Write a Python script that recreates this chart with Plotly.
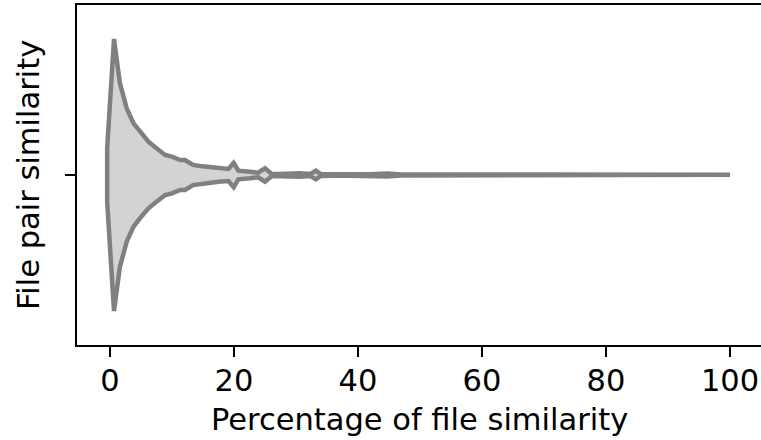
import plotly.graph_objects as go

# Percentage of file similarity (x grid) and relative density (peak = 1)
similarity_pct = [-0.45, 0.65, 1.6, 2.7, 3.8, 4.8, 6.2, 7.5, 8.9, 10.0, 11.3, 12.1,
                  13.4, 14.5, 15.6, 17.5, 19.1, 19.95, 20.7, 22.6, 23.9, 25.0, 26.1,
                  27.4, 30.6, 32.3, 33.2, 34.0, 36.0, 38.7, 42.0, 44.8, 47.0, 55.0,
                  65.0, 75.0, 85.0, 95.0, 100.0]
rel_density = [0.20, 1.00, 0.675, 0.49, 0.38, 0.32, 0.245, 0.196, 0.147, 0.135, 0.11, 0.11,
               0.074, 0.066, 0.061, 0.05, 0.045, 0.09, 0.032, 0.024, 0.017, 0.049, 0.007,
               0.007, 0.0125, 0.007, 0.032, 0.007, 0.005, 0.005, 0.005, 0.011, 0.004, 0.003,
               0.003, 0.002, 0.002, 0.002, 0.002]
x_ticks = [0, 20, 40, 60, 80, 100]
x_label = "Percentage of file similarity"
y_label = "File pair similarity"

half_width = 0.4  # violin half width in category units
peak = max(rel_density)
upper = [d / peak * half_width for d in rel_density]
lower = [-u for u in upper]

xs = similarity_pct + similarity_pct[::-1] + [similarity_pct[0]]
ys = upper + lower[::-1] + [upper[0]]

W, H = 761, 440
L, R, T, B = 77, 0, 5, 95
pw, ph = W - L - R, H - T - B

fig = go.Figure()
fig.add_trace(go.Scatter(
    x=xs, y=ys, mode="lines", fill="toself",
    fillcolor="#d3d3d3", line=dict(color="#808080", width=4.5),
    hoverinfo="skip", showlegend=False,
))

font = dict(family="DejaVu Sans", size=30.5, color="black")

fig.update_layout(
    width=W, height=H,
    margin=dict(l=L, r=R, t=T, b=B, pad=0),
    paper_bgcolor="white", plot_bgcolor="white",
    font=font,
    xaxis=dict(
        range=[-5.32, 105.0], tickvals=x_ticks, ticktext=[str(v) for v in x_ticks],
        showgrid=False, zeroline=False, showline=True, linecolor="black", linewidth=2.2,
        mirror=True, ticks="outside", ticklen=10, tickwidth=2.2, tickcolor="black",
        tickfont=font, ticklabelstandoff=-3,
    ),
    yaxis=dict(
        range=[-0.5, 0.5], tickvals=[0], ticktext=[""],
        showgrid=False, zeroline=False, showline=True, linecolor="black", linewidth=2.2,
        ticks="outside", ticklen=10, tickwidth=2.2, tickcolor="black",
    ),
    annotations=[
        dict(text=x_label, xref="paper", yref="paper",
             x=(419 - L) / pw, y=(H - B - 419) / ph, xanchor="center", yanchor="middle",
             showarrow=False, font=font),
        dict(text=y_label, xref="paper", yref="paper", textangle=-90,
             x=(28 - L) / pw, y=0.5, xanchor="center", yanchor="middle",
             showarrow=False, font=font),
    ],
)

fig.write_html("out.html")
